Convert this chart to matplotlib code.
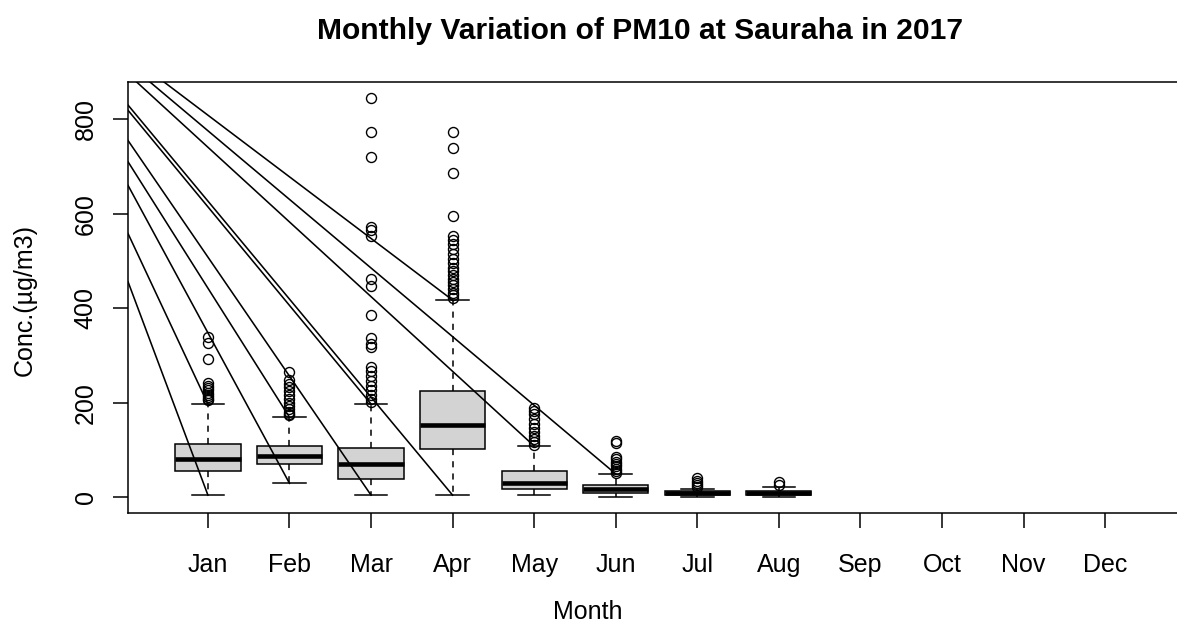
import matplotlib
matplotlib.use("Agg")
import matplotlib.pyplot as plt

plt.rcParams['font.family'] = ['Liberation Sans', 'DejaVu Sans']

# ---------------- data ----------------
months = ["Jan", "Feb", "Mar", "Apr", "May", "Jun", "Jul", "Aug", "Sep", "Oct", "Nov", "Dec"]
box_months = [1, 2, 3, 4, 5, 6, 7, 8]
q1 = [55, 70, 38, 101, 18, 8, 4, 4]
median = [80, 87, 70, 152, 29, 16, 9, 9]
q3 = [112, 108, 104, 224, 56, 25, 13, 13]
whislo = [4, 29, 4, 4, 4, 1, 0, 0]
whishi = [197, 169, 197, 417, 108, 49, 18, 22]

out_jan = [339, 327, 293, 241, 236, 231, 226, 221, 216, 212, 208, 205]
out_feb = [264, 248, 240, 232, 224, 216, 208, 200, 193, 186, 180, 176, 173]
out_mar = [844, 772, 720, 572, 565, 552, 461, 447, 385, 336, 324, 318, 276, 266,
           256, 246, 236, 226, 216, 208, 202]
out_apr = [772, 738, 686, 595, 553, 545, 535, 525, 515, 505, 495, 485, 478, 470,
           462, 455, 448, 440, 433, 427, 422]
out_may = [188, 183, 176, 165, 155, 146, 138, 130, 122, 116, 111]
out_jun = [119, 114, 85, 80, 75, 70, 65, 60, 55, 51]
out_jul = [40, 35, 30, 25, 21]
out_aug = [31, 25]
outliers = [out_jan, out_feb, out_mar, out_apr, out_may, out_jun, out_jul, out_aug]

# straight segments that end on whisker tips: (month, which end) and start point
seg_month = [1, 1, 2, 2, 3, 3, 4, 5, 6, 4]
seg_end = ["lo", "hi", "lo", "hi", "lo", "hi", "lo", "hi", "hi", "hi"]
seg_start_x = [0.02, 0.02, 0.02, 0.02, 0.02, 0.02, 0.02, 0.125, 0.288, 0.46]
seg_start_val = [456, 558, 660, 710, 755, 819, 830, 879, 879, 879]

title = "Monthly Variation of PM10 at Sauraha in 2017"
xlabel = "Month"
ylabel = "Conc.(µg/m3)"

# ---------------- figure ----------------
W, H = 1177, 639
fig = plt.figure(figsize=(W / 100, H / 100), dpi=100)
ax = fig.add_axes([128 / W, (H - 513) / H, (1185 - 128) / W, (513 - 82) / H])
ax.set_xlim(0.02, 12.98)
ax.set_ylim(-33.8, 878.8)

stats = []
for i in range(len(box_months)):
    stats.append(dict(med=median[i], q1=q1[i], q3=q3[i], whislo=whislo[i],
                      whishi=whishi[i], fliers=outliers[i]))

ax.bxp(stats, positions=box_months, widths=0.8, capwidths=0.4,
       patch_artist=True, manage_ticks=False,
       boxprops=dict(facecolor="#D3D3D3", edgecolor="black", linewidth=1.1),
       medianprops=dict(color="black", linewidth=3.3, solid_capstyle="butt"),
       whiskerprops=dict(color="black", linewidth=1.1, linestyle=(0, (4, 4))),
       capprops=dict(color="black", linewidth=1.1),
       flierprops=dict(marker="o", markerfacecolor="none", markeredgecolor="black",
                       markersize=7.2, markeredgewidth=1.0, linestyle="none"))

for m, e, sx, sv in zip(seg_month, seg_end, seg_start_x, seg_start_val):
    ev = whislo[m - 1] if e == "lo" else whishi[m - 1]
    ax.plot([sx, m], [sv, ev], color="black", linewidth=1.15)

ax.set_xticks(range(1, 13))
ax.set_xticklabels(months)
ax.set_yticks([0, 200, 400, 600, 800])
ax.set_yticklabels(["0", "200", "400", "600", "800"], rotation=90, va="center")
ax.tick_params(axis="x", direction="out", length=10.8, width=1.1, labelsize=18, pad=18)
ax.tick_params(axis="y", direction="out", length=10.8, width=1.1, labelsize=18, pad=11)
for s in ax.spines.values():
    s.set_linewidth(1.1)

fig.text(640 / W, 1 - 31 / H, title, ha="center", va="center",
         fontsize=21.6, fontweight="bold")
fig.text(588 / W, 1 - 612 / H, xlabel, ha="center", va="center", fontsize=18)
fig.text(25 / W, 1 - 300 / H, ylabel, ha="center", va="center", rotation=90,
         fontsize=18)

fig.savefig("out.png", dpi=100)
